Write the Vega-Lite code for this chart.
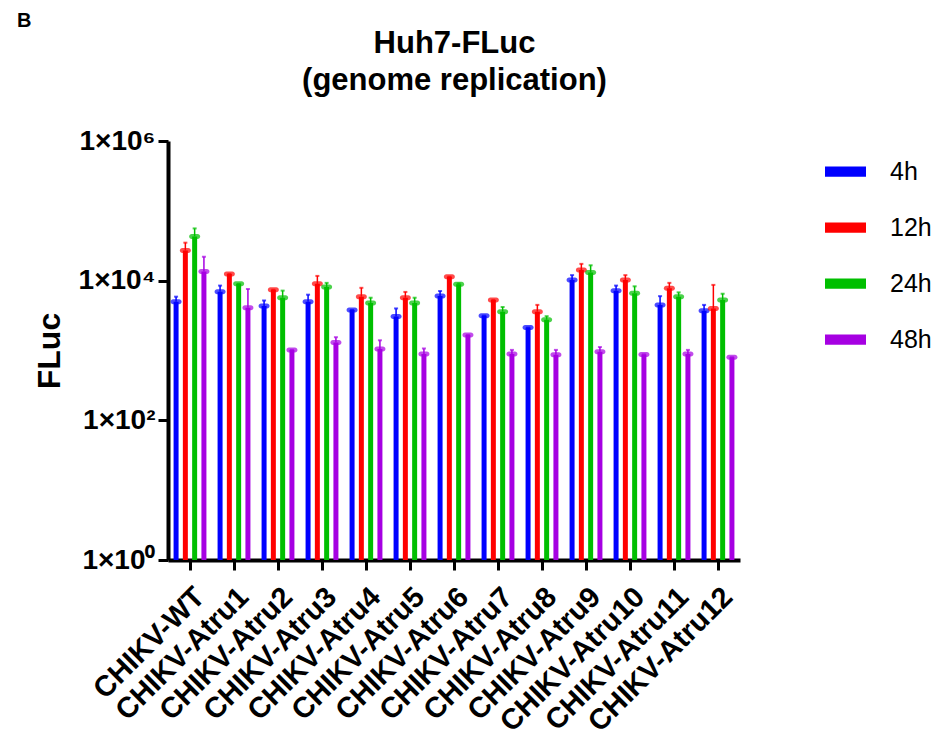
{
  "$schema": "https://vega.github.io/schema/vega-lite/v6.json",
  "width": 572,
  "height": 419,
  "autosize": {"type": "none"},
  "padding": {"left": 168, "top": 141, "right": 201, "bottom": 182},
  "background": "white",
  "title": {"text": "B", "anchor": "start", "frame": "group", "dx": -151, "offset": -4, "fontSize": 20, "font": "Liberation Sans", "fontWeight": "bold", "color": "black"},
  "data": {"values": [
    {"sample": "CHIKV-WT", "time": "4h", "value": 5000, "err": 5900},
    {"sample": "CHIKV-WT", "time": "12h", "value": 27000, "err": 35000},
    {"sample": "CHIKV-WT", "time": "24h", "value": 43000, "err": 56000},
    {"sample": "CHIKV-WT", "time": "48h", "value": 13500, "err": 22000},
    {"sample": "CHIKV-Atru1", "time": "4h", "value": 6950, "err": 8500},
    {"sample": "CHIKV-Atru1", "time": "12h", "value": 12500, "err": 12500},
    {"sample": "CHIKV-Atru1", "time": "24h", "value": 9000, "err": 9000},
    {"sample": "CHIKV-Atru1", "time": "48h", "value": 4100, "err": 7600},
    {"sample": "CHIKV-Atru2", "time": "4h", "value": 4350, "err": 5200},
    {"sample": "CHIKV-Atru2", "time": "12h", "value": 7400, "err": 7400},
    {"sample": "CHIKV-Atru2", "time": "24h", "value": 5700, "err": 7200},
    {"sample": "CHIKV-Atru2", "time": "48h", "value": 1020, "err": 1020},
    {"sample": "CHIKV-Atru3", "time": "4h", "value": 5000, "err": 6300},
    {"sample": "CHIKV-Atru3", "time": "12h", "value": 9000, "err": 11700},
    {"sample": "CHIKV-Atru3", "time": "24h", "value": 8100, "err": 9300},
    {"sample": "CHIKV-Atru3", "time": "48h", "value": 1300, "err": 1550},
    {"sample": "CHIKV-Atru4", "time": "4h", "value": 3800, "err": 3800},
    {"sample": "CHIKV-Atru4", "time": "12h", "value": 5900, "err": 7900},
    {"sample": "CHIKV-Atru4", "time": "24h", "value": 4800, "err": 5700},
    {"sample": "CHIKV-Atru4", "time": "48h", "value": 1050, "err": 1400},
    {"sample": "CHIKV-Atru5", "time": "4h", "value": 3080, "err": 4000},
    {"sample": "CHIKV-Atru5", "time": "12h", "value": 5700, "err": 6900},
    {"sample": "CHIKV-Atru5", "time": "24h", "value": 4800, "err": 5700},
    {"sample": "CHIKV-Atru5", "time": "48h", "value": 890, "err": 1070},
    {"sample": "CHIKV-Atru6", "time": "4h", "value": 6050, "err": 7100},
    {"sample": "CHIKV-Atru6", "time": "12h", "value": 11400, "err": 11400},
    {"sample": "CHIKV-Atru6", "time": "24h", "value": 8900, "err": 9100},
    {"sample": "CHIKV-Atru6", "time": "48h", "value": 1670, "err": 1670},
    {"sample": "CHIKV-Atru7", "time": "4h", "value": 3150, "err": 3150},
    {"sample": "CHIKV-Atru7", "time": "12h", "value": 5300, "err": 5300},
    {"sample": "CHIKV-Atru7", "time": "24h", "value": 3600, "err": 4200},
    {"sample": "CHIKV-Atru7", "time": "48h", "value": 890, "err": 1020},
    {"sample": "CHIKV-Atru8", "time": "4h", "value": 2130, "err": 2130},
    {"sample": "CHIKV-Atru8", "time": "12h", "value": 3600, "err": 4500},
    {"sample": "CHIKV-Atru8", "time": "24h", "value": 2750, "err": 3100},
    {"sample": "CHIKV-Atru8", "time": "48h", "value": 870, "err": 1020},
    {"sample": "CHIKV-Atru9", "time": "4h", "value": 10200, "err": 12000},
    {"sample": "CHIKV-Atru9", "time": "12h", "value": 14200, "err": 17400},
    {"sample": "CHIKV-Atru9", "time": "24h", "value": 13100, "err": 16600},
    {"sample": "CHIKV-Atru9", "time": "48h", "value": 960, "err": 1120},
    {"sample": "CHIKV-Atru10", "time": "4h", "value": 7200, "err": 8500},
    {"sample": "CHIKV-Atru10", "time": "12h", "value": 10200, "err": 12000},
    {"sample": "CHIKV-Atru10", "time": "24h", "value": 6600, "err": 8300},
    {"sample": "CHIKV-Atru10", "time": "48h", "value": 880, "err": 880},
    {"sample": "CHIKV-Atru11", "time": "4h", "value": 4500, "err": 6000},
    {"sample": "CHIKV-Atru11", "time": "12h", "value": 7800, "err": 9300},
    {"sample": "CHIKV-Atru11", "time": "24h", "value": 5900, "err": 6800},
    {"sample": "CHIKV-Atru11", "time": "48h", "value": 890, "err": 1020},
    {"sample": "CHIKV-Atru12", "time": "4h", "value": 3720, "err": 4500},
    {"sample": "CHIKV-Atru12", "time": "12h", "value": 3980, "err": 8700},
    {"sample": "CHIKV-Atru12", "time": "24h", "value": 5300, "err": 6500},
    {"sample": "CHIKV-Atru12", "time": "48h", "value": 800, "err": 800}
  ]},
  "resolve": {"axis": {"x": "independent"}},
  "encoding": {
    "xOffset": {"field": "time", "type": "nominal", "sort": ["4h", "12h", "24h", "48h"], "scale": {"paddingInner": 0, "paddingOuter": 0.37}},
    "color": {
      "field": "time", "type": "nominal", "sort": ["4h", "12h", "24h", "48h"],
      "scale": {"domain": ["4h", "12h", "24h", "48h"], "range": ["#0000FF", "#FF0000", "#00BF00", "#A600E2"]},
      "legend": {
        "title": null, "orient": "none", "legendX": 657, "legendY": 10, "padding": 0,
        "symbolType": "M-1,-0.25H1V0.25H-1Z", "symbolSize": 1681, "symbolStrokeWidth": 0, "symbolOpacity": 1,
        "labelFont": "Liberation Sans", "labelFontSize": 25, "labelColor": "black", "labelOffset": 24, "rowPadding": 22
      }
    }
  },
  "layer": [
    {
      "mark": {"type": "bar", "size": 5},
      "encoding": {
        "x": {"field": "sample", "type": "nominal", "sort": null, "scale": {"paddingInner": 0, "paddingOuter": 0},
          "axis": {"orient": "bottom", "title": null, "labelAngle": -45, "labelAlign": "right", "labelBaseline": "top", "labelPadding": 12,
            "labelFont": "Liberation Sans", "labelFontWeight": "bold", "labelFontSize": 29, "labelColor": "black",
            "domainColor": "black", "domainWidth": 4, "tickColor": "black", "tickWidth": 3, "tickSize": 10, "labelLimit": 400}},
        "y": {"field": "value", "type": "quantitative", "title": "FLuc", "scale": {"type": "log", "domain": [1, 1000000]},
          "axis": {"values": [1, 100, 10000, 1000000], "grid": false,
            "labelExpr": "'1×10' + (datum.value == 1 ? '⁰' : datum.value == 100 ? '²' : datum.value == 10000 ? '⁴' : '⁶')",
            "labelFont": "Liberation Sans", "labelFontWeight": "bold", "labelFontSize": 28, "labelColor": "black", "labelPadding": 3,
            "domainColor": "black", "domainWidth": 4, "tickColor": "black", "tickWidth": 3, "tickSize": 10,
            "titleFont": "Liberation Sans", "titleFontWeight": "bold", "titleFontSize": 32, "titleColor": "black", "titlePadding": 12}},
        "y2": {"datum": 1}
      }
    },
    {
      "mark": {"type": "rule", "strokeWidth": 1.5},
      "encoding": {
        "x": {"field": "sample", "type": "nominal", "sort": null, "axis": null},
        "y": {"field": "value", "type": "quantitative", "title": "FLuc"},
        "y2": {"field": "err"}
      }
    },
    {
      "mark": {"type": "tick", "size": 4, "thickness": 2},
      "encoding": {
        "x": {"field": "sample", "type": "nominal", "sort": null, "axis": null},
        "y": {"field": "err", "type": "quantitative", "title": "FLuc"}
      }
    },
    {
      "mark": {"type": "tick", "size": 11, "thickness": 5, "cornerRadius": 2.5},
      "encoding": {
        "x": {"field": "sample", "type": "nominal", "sort": null,
          "axis": {"orient": "top", "labels": false, "ticks": false, "domain": false,
            "title": ["Huh7-FLuc", "(genome replication)"], "titleFont": "Liberation Sans", "titleFontWeight": "bold",
            "titleFontSize": 31, "titleColor": "black", "titleY": -89, "titleBaseline": "alphabetic", "titleLineHeight": 37}},
        "y": {"field": "value", "type": "quantitative", "title": "FLuc"}
      }
    }
  ],
  "config": {"view": {"stroke": null}, "axis": {"grid": false}}
}
